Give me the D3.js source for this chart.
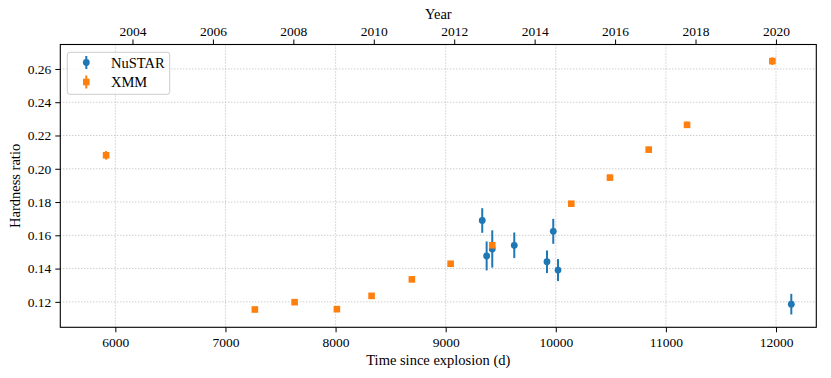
<!DOCTYPE html>
<html>
<head>
<meta charset="utf-8">
<script src="https://cdn.jsdelivr.net/npm/d3@7"></script>
<style>
  body { margin: 0; background: #fff; }
</style>
</head>
<body>
<svg id="chart"></svg>
<script>
const width = 831,
      height = 378,
      margin = { top: 44.5, right: 14.7, bottom: 50.7, left: 60.3 },
      serif = '"Liberation Serif", "Times New Roman", serif';

// NuSTAR hardness ratios (days since explosion)
const nustarDays = [9332, 9372, 9423, 9623, 9920, 9977, 10020, 12139];
const nustarHR   = [0.1689, 0.1476, 0.1518, 0.1540, 0.1441, 0.1624, 0.1391, 0.1186];
const nustarErr  = [0.0074, 0.0087, 0.0112, 0.0077, 0.0068, 0.0075, 0.0066, 0.0062];

// XMM hardness ratios
const xmmDays = [5916, 7267, 7628, 8012, 8327, 8693, 9045, 9423, 10141, 10492, 10844, 11192, 11967];
const xmmHR   = [0.2081, 0.1154, 0.1198, 0.1156, 0.1236, 0.1335, 0.1429, 0.1540, 0.1790, 0.1947, 0.2115, 0.2264, 0.2647];
const xmmErr  = [0.0026, 0.0012, 0.0012, 0.0012, 0.0012, 0.0012, 0.0013, 0.0014, 0.0015, 0.0016, 0.0018, 0.0019, 0.0023];

const dayTicks  = [6000, 7000, 8000, 9000, 10000, 11000, 12000];
const hrTicks   = [0.12, 0.14, 0.16, 0.18, 0.20, 0.22, 0.24, 0.26];
const yearTicks = [2004, 2006, 2008, 2010, 2012, 2014, 2016, 2018, 2020];

const explosionYear = 1987.147;
const toYear = (d) => explosionYear + d / 365.25;

const blue = '#1f77b4',
      orange = '#ff7f0e';

const x = d3.scaleLinear()
  .domain([5500, 12366])
  .range([margin.left, width - margin.right]);

const xYear = d3.scaleLinear()
  .domain(x.domain().map(toYear))
  .range(x.range());

const y = d3.scaleLinear()
  .domain([0.1047, 0.2747])
  .range([height - margin.bottom, margin.top]);

const svg = d3.select('#chart')
  .attr('width', width)
  .attr('height', height)
  .attr('font-family', serif);

// grid
const grid = svg.append('g')
  .attr('stroke', '#b0b0b0')
  .attr('stroke-width', 0.9)
  .attr('stroke-dasharray', '1,2');

grid.selectAll('.vgrid')
  .data(dayTicks)
  .enter()
  .append('line')
    .attr('x1', (d) => x(d)).attr('x2', (d) => x(d))
    .attr('y1', margin.top).attr('y2', height - margin.bottom);

grid.selectAll('.hgrid')
  .data(hrTicks)
  .enter()
  .append('line')
    .attr('y1', (d) => y(d)).attr('y2', (d) => y(d))
    .attr('x1', margin.left).attr('x2', width - margin.right);

// axes
const bottomAxis = svg.append('g')
  .attr('transform', `translate(0, ${height - margin.bottom})`)
  .call(d3.axisBottom(x).tickValues(dayTicks).tickFormat(d3.format('d')).tickSize(5).tickPadding(5));

const leftAxis = svg.append('g')
  .attr('transform', `translate(${margin.left}, 0)`)
  .call(d3.axisLeft(y).tickValues(hrTicks).tickFormat(d3.format('.2f')).tickSize(5).tickPadding(4));

const topAxis = svg.append('g')
  .attr('transform', `translate(0, ${margin.top})`)
  .call(d3.axisTop(xYear).tickValues(yearTicks).tickFormat(d3.format('d')).tickSize(5).tickPadding(4));

[bottomAxis, leftAxis, topAxis].forEach((g) => {
  g.attr('font-family', serif).attr('font-size', 13.5);
  g.select('.domain').remove();
  g.selectAll('.tick line').attr('stroke', '#000').attr('stroke-width', 1);
  g.selectAll('.tick text')
    .attr('font-family', serif)
    .attr('font-size', 13.5)
    .attr('fill', '#000');
});

// frame
svg.append('rect')
  .attr('x', margin.left)
  .attr('y', margin.top)
  .attr('width', width - margin.left - margin.right)
  .attr('height', height - margin.top - margin.bottom)
  .attr('fill', 'none')
  .attr('stroke', '#000')
  .attr('stroke-width', 1.1);

// labels
svg.append('text')
  .attr('x', (margin.left + width - margin.right) / 2)
  .attr('y', 365)
  .attr('text-anchor', 'middle')
  .attr('font-size', 14.5)
  .text('Time since explosion (d)');

svg.append('text')
  .attr('x', (margin.left + width - margin.right) / 2)
  .attr('y', 18.7)
  .attr('text-anchor', 'middle')
  .attr('font-size', 14.5)
  .text('Year');

svg.append('text')
  .attr('transform', `translate(19.5, ${(margin.top + height - margin.bottom) / 2}) rotate(-90)`)
  .attr('text-anchor', 'middle')
  .attr('font-size', 14.5)
  .text('Hardness ratio');

// data
const nustar = nustarDays.map((d, i) => ({ day: d, hr: nustarHR[i], err: nustarErr[i] }));
const xmm = xmmDays.map((d, i) => ({ day: d, hr: xmmHR[i], err: xmmErr[i] }));

function drawSeries(data, color, shape) {
  const g = svg.append('g');
  g.selectAll('.err')
    .data(data)
    .enter()
    .append('line')
      .attr('x1', (d) => x(d.day)).attr('x2', (d) => x(d.day))
      .attr('y1', (d) => y(d.hr - d.err)).attr('y2', (d) => y(d.hr + d.err))
      .attr('stroke', color)
      .attr('stroke-width', 2);
  if (shape === 'circle') {
    g.selectAll('.pt')
      .data(data)
      .enter()
      .append('circle')
        .attr('cx', (d) => x(d.day))
        .attr('cy', (d) => y(d.hr))
        .attr('r', 3.4)
        .attr('fill', color);
  } else {
    g.selectAll('.pt')
      .data(data)
      .enter()
      .append('rect')
        .attr('x', (d) => x(d.day) - 3.3)
        .attr('y', (d) => y(d.hr) - 3.3)
        .attr('width', 6.6)
        .attr('height', 6.6)
        .attr('fill', color);
  }
}

drawSeries(nustar, blue, 'circle');
drawSeries(xmm, orange, 'square');

// legend
const legend = svg.append('g');
legend.append('rect')
  .attr('x', 67.3).attr('y', 52.3)
  .attr('width', 102.4).attr('height', 42)
  .attr('rx', 2.5)
  .attr('fill', 'rgba(255,255,255,0.8)')
  .attr('stroke', '#cccccc')
  .attr('stroke-width', 1);

const legendItems = [
  { name: 'NuSTAR', color: blue, shape: 'circle', y: 62.5 },
  { name: 'XMM', color: orange, shape: 'square', y: 82 }
];

legendItems.forEach((it) => {
  legend.append('line')
    .attr('x1', 86.3).attr('x2', 86.3)
    .attr('y1', it.y - 6.5).attr('y2', it.y + 6.5)
    .attr('stroke', it.color).attr('stroke-width', 2);
  if (it.shape === 'circle') {
    legend.append('circle').attr('cx', 86.3).attr('cy', it.y).attr('r', 3.4).attr('fill', it.color);
  } else {
    legend.append('rect').attr('x', 83).attr('y', it.y - 3.3).attr('width', 6.6).attr('height', 6.6).attr('fill', it.color);
  }
  legend.append('text')
    .attr('x', 111).attr('y', it.y + 5)
    .attr('font-size', 14.5)
    .text(it.name);
});
</script>
</body>
</html>
